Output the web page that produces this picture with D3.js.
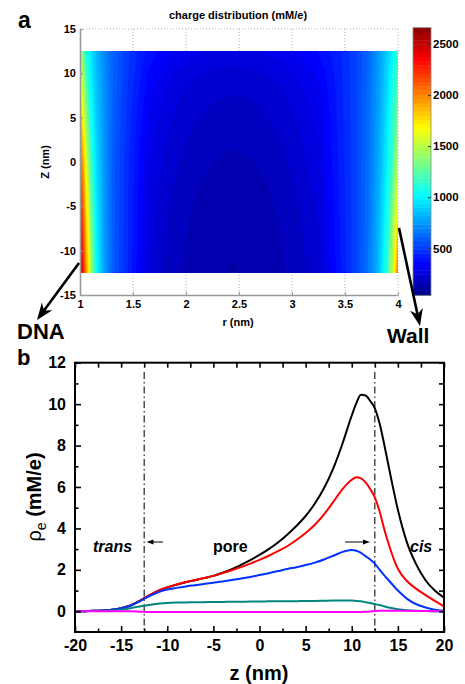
<!DOCTYPE html>
<html>
<head>
<meta charset="utf-8">
<script src="https://cdn.jsdelivr.net/npm/d3@7"></script>
<style>
body { margin: 0; background: #fff; }
text { font-family: "Liberation Sans", Arial, sans-serif; font-weight: bold; fill: #000; }
</style>
</head>
<body>
<svg id="chart" width="465" height="684"></svg>
<script>
// ---- panel a: charge density map rho(r, z) in mM/e ----
const rGrid = [1.00, 1.03, 1.06, 1.10, 1.15, 1.22, 1.32, 1.45, 1.65, 1.85, 2.05, 2.25,
               2.45, 2.65, 2.85, 3.05, 3.25, 3.45, 3.60, 3.72, 3.82, 3.90, 3.95, 4.00];
const zGrid = [12.5, 10, 7.5, 5, 2.5, 0, -2.5, -5, -7.5, -10, -12.5];
// one row per zGrid entry, one column per rGrid entry
const rhoMap = [
  [1500,1300,1100, 980, 850,720,600,500,390, 329,299,281,275,281,299,329,371, 440,520,620,760, 900,1000,1150],
  [1650,1420,1180,1000, 860,730,600,495,360, 290,258,238,232,238,258,290,334, 436,520,624,768, 920,1040,1220],
  [1800,1540,1270,1050, 880,740,595,485,335, 264,230,210,203,210,230,264,312, 432,520,628,776, 940,1080,1290],
  [1920,1660,1370,1100, 900,750,590,475,318, 250,214,192,185,192,214,250,300, 428,520,632,784, 960,1120,1360],
  [2040,1780,1480,1150, 925,755,585,468,300, 235,198,175,168,175,198,235,286, 424,520,636,792, 980,1160,1430],
  [2150,1900,1600,1200, 950,760,580,460,290, 223,185,163,155,163,185,223,277, 420,520,640,800,1000,1200,1500],
  [2240,2000,1690,1270, 970,770,580,458,280, 210,172,150,142,150,172,210,264, 416,520,644,810,1030,1270,1600],
  [2320,2080,1760,1330, 990,775,580,455,272, 202,165,142,135,142,165,202,253, 412,520,648,820,1060,1340,1710],
  [2400,2160,1830,1390,1010,785,580,453,265, 193,157,135,128,135,157,193,243, 408,520,652,830,1090,1410,1820],
  [2480,2230,1890,1450,1030,790,580,452,258, 187,152,131,124,131,152,187,236, 404,520,656,840,1120,1480,1930],
  [2550,2300,1950,1500,1050,800,580,450,252, 182,148,127,120,127,148,182,230, 400,520,660,850,1150,1550,2050]
];
const colorRange = [40, 2660];
const nColors = 64;
const cbTicks = [500, 1000, 1500, 2000, 2500];
const rTicks = [1, 1.5, 2, 2.5, 3, 3.5, 4];
const zTicksA = [-15, -10, -5, 0, 5, 10, 15];

// ---- panel b: rho_e along z ----
const zLine = [-20,-19,-18,-17,-16,-15,-14,-13,-12,-11,-10,-9,-8,-7,-6,-5,-4,-3,-2,-1,0,1,2,3,4,5,6,7,8,9,10,
               10.5,11,11.5,12,12.5,13,13.5,14,15,16,17,18,19,20];
const rhoBlack = [0,0.005,0.02,0.04,0.08,0.15,0.28,0.5,0.75,0.98,1.15,1.28,1.4,1.5,1.6,1.71,1.86,2.03,2.24,2.47,2.72,
                  3.0,3.32,3.7,4.12,4.6,5.2,5.95,6.9,8.1,9.45,10.05,10.45,10.42,10.15,9.8,9.1,8.1,7.0,4.9,3.3,2.25,1.5,1.0,0.66];
const rhoRed = [0,0.005,0.02,0.04,0.08,0.15,0.28,0.5,0.76,0.99,1.16,1.29,1.41,1.51,1.61,1.71,1.84,1.98,2.13,2.3,2.48,
                2.68,2.9,3.14,3.44,3.78,4.18,4.68,5.28,5.9,6.35,6.47,6.42,6.22,5.9,5.5,4.85,4.0,3.25,2.05,1.45,1.08,0.78,0.5,0.24];
const rhoBlue = [0,0.005,0.02,0.04,0.08,0.15,0.27,0.48,0.72,0.92,1.05,1.13,1.2,1.26,1.32,1.38,1.44,1.51,1.58,1.66,1.75,
                 1.84,1.94,2.04,2.13,2.23,2.35,2.5,2.68,2.87,2.96,2.92,2.82,2.66,2.5,2.3,2.02,1.75,1.5,1.0,0.6,0.34,0.18,0.07,0.02];
const rhoTeal = [0,0.003,0.01,0.02,0.04,0.08,0.15,0.23,0.3,0.36,0.4,0.42,0.43,0.44,0.44,0.45,0.45,0.46,0.46,0.47,0.47,
                 0.48,0.48,0.49,0.49,0.5,0.5,0.51,0.52,0.52,0.52,0.5,0.48,0.44,0.4,0.35,0.3,0.24,0.18,0.1,0.05,0.02,0.01,0.005,0];
const rhoMagenta = [0,0,0,0,0,0,0,-0.02,-0.04,-0.04,-0.04,-0.04,-0.04,-0.04,-0.04,-0.04,-0.04,-0.04,-0.04,-0.04,-0.04,
                    -0.04,-0.04,-0.04,-0.035,-0.035,-0.035,-0.03,-0.03,-0.03,-0.03,-0.03,-0.03,-0.02,-0.01,0.01,0.02,0.02,0.02,0.02,0.02,0.015,0.01,0.005,0];
const seriesColors = ["#000000", "#ff0000", "#0033ff", "#00857f", "#ff00ff"];
const poreEdges = [-12.5, 12.5];
const zTicksB = [-20, -15, -10, -5, 0, 5, 10, 15, 20];
const zMinorB = [-17.5, -12.5, -7.5, -2.5, 2.5, 7.5, 12.5, 17.5];
const rhoTicks = [0, 2, 4, 6, 8, 10, 12];
const rhoMinor = [1, 3, 5, 7, 9, 11];

const svg = d3.select("#chart");
const plain = d => String(d);   // hyphen minus, no thousands separator

function jet(k) {
    const t = (k + 1) / (nColors + 1);
    const c = v => Math.max(0, Math.min(1, v)) * 255;
    return d3.rgb(c(1.5 - Math.abs(4 * t - 3)), c(1.5 - Math.abs(4 * t - 2)), c(1.5 - Math.abs(4 * t - 1))).formatHex();
}

// ================= panel a =================
const xA = d3.scaleLinear().domain([1, 4]).range([80, 398]);
const yA = d3.scaleLinear().domain([-15, 15]).range([295, 29]);
const gA = svg.append("g");

// dotted grid (under the map)
gA.selectAll(".vgrid").data(rTicks.slice(1)).enter().append("line")
    .attr("x1", d => xA(d)).attr("x2", d => xA(d))
    .attr("y1", yA(15)).attr("y2", yA(-15))
    .attr("stroke", "#999").attr("stroke-width", 0.8).attr("stroke-dasharray", "1,2");
gA.append("line")
    .attr("x1", xA(1)).attr("x2", xA(4)).attr("y1", yA(15)).attr("y2", yA(15))
    .attr("stroke", "#999").attr("stroke-width", 0.8).attr("stroke-dasharray", "1,2");

// filled contour map
const step = (colorRange[1] - colorRange[0]) / nColors;
const thresholds = d3.range(nColors).map(k => colorRange[0] + k * step);
const rIdx = d3.scaleLinear().domain(rGrid.map((d, i) => i + 0.5)).range(rGrid).clamp(true);
const zIdx = d3.scaleLinear().domain(zGrid.map((d, i) => i + 0.5)).range(zGrid).clamp(true);
const mapProj = d3.geoTransform({
    point: function (x, y) { this.stream.point(xA(rIdx(x)), yA(zIdx(y))); }
});
const mapPath = d3.geoPath(mapProj);
const contours = d3.contours().size([rGrid.length, zGrid.length]).thresholds(thresholds)(rhoMap.flat());
gA.append("g").selectAll("path").data(contours).enter().append("path")
    .attr("d", mapPath)
    .attr("fill", d => jet(Math.round((d.value - colorRange[0]) / step)));

// axes of panel a
const axA = gA.append("g").attr("transform", `translate(0,${yA(-15)})`)
    .call(d3.axisBottom(xA).tickValues(rTicks).tickSize(-3).tickSizeOuter(0).tickPadding(5).tickFormat(plain));
const ayA = gA.append("g").attr("transform", `translate(${xA(1)},0)`)
    .call(d3.axisLeft(yA).tickValues(zTicksA).tickSize(-3).tickSizeOuter(0).tickPadding(4).tickFormat(plain));
[axA, ayA].forEach(a => {
    a.select(".domain").attr("stroke", "#999").attr("stroke-width", 1.6);
    a.selectAll(".tick line").attr("stroke", "#999");
    a.selectAll("text").attr("font-size", 11).attr("fill", "#000");
});

gA.append("text").attr("x", 238).attr("y", 19).attr("text-anchor", "middle")
    .attr("font-size", 11).text("charge distribution (mM/e)");
gA.append("text").attr("x", 238).attr("y", 326).attr("text-anchor", "middle")
    .attr("font-size", 11).text("r (nm)");
gA.append("text").attr("transform", "translate(49,162) rotate(-90)").attr("text-anchor", "middle")
    .attr("font-size", 11).text("Z (nm)");
gA.append("text").attr("x", 18).attr("y", 28).attr("font-size", 23).text("a");

// colorbar
const cbY = d3.scaleLinear().domain(colorRange).range([295.3, 27.7]);
const cbX = 413, cbW = 18;
gA.append("g").selectAll("rect").data(thresholds).enter().append("rect")
    .attr("x", cbX).attr("width", cbW)
    .attr("y", d => cbY(d + step))
    .attr("height", d => cbY(d) - cbY(d + step) + 0.4)
    .attr("fill", (d, i) => jet(i));
gA.append("rect").attr("x", cbX).attr("y", cbY(colorRange[1])).attr("width", cbW)
    .attr("height", cbY(colorRange[0]) - cbY(colorRange[1]))
    .attr("fill", "none").attr("stroke", "#888").attr("stroke-width", 0.8);
const cbAxis = gA.append("g").attr("transform", `translate(${cbX + cbW},0)`)
    .call(d3.axisRight(cbY).tickValues(cbTicks).tickSize(-3).tickSizeOuter(0).tickPadding(2).tickFormat(plain));
cbAxis.select(".domain").remove();
cbAxis.selectAll(".tick line").attr("stroke", "#333");
cbAxis.selectAll("text").attr("font-size", 11.5).attr("fill", "#000");

// DNA / Wall arrows
function arrow(g, x1, y1, x2, y2, w, len, half) {
    const a = Math.atan2(y2 - y1, x2 - x1);
    const bx = x2 - len * Math.cos(a), by = y2 - len * Math.sin(a);
    g.append("line").attr("x1", x1).attr("y1", y1)
        .attr("x2", x2 - 0.6 * len * Math.cos(a)).attr("y2", y2 - 0.6 * len * Math.sin(a))
        .attr("stroke", "#000").attr("stroke-width", w);
    const nx = -Math.sin(a), ny = Math.cos(a);
    const nb = 0.7 * len;
    g.append("path")
        .attr("d", `M${x2},${y2}L${bx + half * nx},${by + half * ny}L${x2 - nb * Math.cos(a)},${y2 - nb * Math.sin(a)}L${bx - half * nx},${by - half * ny}Z`)
        .attr("fill", "#000");
}
arrow(gA, 79, 263, 37, 320, 2.6, 17, 6.5);
arrow(gA, 399, 228, 420, 326, 2.6, 17, 6.5);
gA.append("text").attr("x", 17).attr("y", 339).attr("font-size", 22).text("DNA");
gA.append("text").attr("x", 387).attr("y", 343).attr("font-size", 21).text("Wall");

// ================= panel b =================
const xB = d3.scaleLinear().domain([-20, 20]).range([75, 444]);
const yB = d3.scaleLinear().domain([-1, 12]).range([632, 362.7]);
const gB = svg.append("g");

// pore boundaries
gB.selectAll(".pore").data(poreEdges).enter().append("line")
    .attr("x1", d => xB(d)).attr("x2", d => xB(d))
    .attr("y1", 372).attr("y2", yB(-1))
    .attr("stroke", "#222").attr("stroke-width", 1.2).attr("stroke-dasharray", "7,3,1.5,3");

const series = [rhoBlack, rhoRed, rhoBlue, rhoTeal, rhoMagenta];
const line = d3.line().x(d => xB(d[0])).y(d => yB(d[1])).curve(d3.curveMonotoneX);
gB.selectAll(".curve").data(series).enter().append("path")
    .attr("d", s => line(zLine.map((z, i) => [z, s[i]])))
    .attr("fill", "none")
    .attr("stroke", (s, i) => seriesColors[i])
    .attr("stroke-width", 2);

// axes with inward ticks on all sides
function styleAxis(a, labels) {
    a.select(".domain").remove();
    a.selectAll(".tick line").attr("stroke", "#000").attr("stroke-width", 1.6);
    if (labels) a.selectAll("text").attr("font-size", 16).attr("fill", "#000");
    else a.selectAll("text").remove();
}
styleAxis(gB.append("g").attr("transform", `translate(0,${yB(-1)})`)
    .call(d3.axisBottom(xB).tickValues(zTicksB).tickSize(-6).tickSizeOuter(0).tickPadding(8).tickFormat(plain)), true);
styleAxis(gB.append("g").attr("transform", `translate(0,${yB(-1)})`)
    .call(d3.axisBottom(xB).tickValues(zMinorB).tickSize(-3.5).tickSizeOuter(0)), false);
styleAxis(gB.append("g").attr("transform", `translate(0,${yB(12)})`)
    .call(d3.axisTop(xB).tickValues(zTicksB.concat(zMinorB)).tickSize(-5).tickSizeOuter(0)), false);
styleAxis(gB.append("g").attr("transform", `translate(${xB(-20)},0)`)
    .call(d3.axisLeft(yB).tickValues(rhoTicks).tickSize(-6).tickSizeOuter(0).tickPadding(9).tickFormat(plain)), true);
styleAxis(gB.append("g").attr("transform", `translate(${xB(-20)},0)`)
    .call(d3.axisLeft(yB).tickValues(rhoMinor).tickSize(-3.5).tickSizeOuter(0)), false);
styleAxis(gB.append("g").attr("transform", `translate(${xB(20)},0)`)
    .call(d3.axisRight(yB).tickValues(rhoTicks.concat(rhoMinor)).tickSize(-5).tickSizeOuter(0)), false);

gB.append("rect").attr("x", xB(-20)).attr("y", yB(12))
    .attr("width", xB(20) - xB(-20)).attr("height", yB(-1) - yB(12))
    .attr("fill", "none").attr("stroke", "#000").attr("stroke-width", 2);

gB.append("text").attr("x", 259).attr("y", 680).attr("text-anchor", "middle")
    .attr("font-size", 20).text("z (nm)");
const yLab = gB.append("text").attr("transform", "translate(41,497) rotate(-90)")
    .attr("text-anchor", "middle").attr("font-size", 20);
yLab.append("tspan").attr("font-weight", "normal").text("\u03c1");
yLab.append("tspan").attr("font-weight", "normal").attr("font-size", 14).attr("dy", 5).text("e");
yLab.append("tspan").attr("dy", -5).text(" (mM/e)");
gB.append("text").attr("x", 17).attr("y", 365).attr("font-size", 22).text("b");

gB.append("text").attr("x", 93).attr("y", 552).attr("font-size", 16).attr("font-style", "italic").text("trans");
gB.append("text").attr("x", 213).attr("y", 552).attr("font-size", 16).text("pore");
gB.append("text").attr("x", 410).attr("y", 552).attr("font-size", 16).attr("font-style", "italic").text("cis");

function smallArrow(x1, x2, y) {
    const dir = Math.sign(x2 - x1);
    gB.append("line").attr("x1", x1).attr("x2", x2 - dir * 4).attr("y1", y).attr("y2", y)
        .attr("stroke", "#000").attr("stroke-width", 1);
    gB.append("path").attr("d", `M${x2},${y}L${x2 - dir * 7},${y - 2.5}L${x2 - dir * 7},${y + 2.5}Z`).attr("fill", "#000");
}
smallArrow(163, 146.5, 542);
smallArrow(345, 370, 542);
</script>
</body>
</html>
